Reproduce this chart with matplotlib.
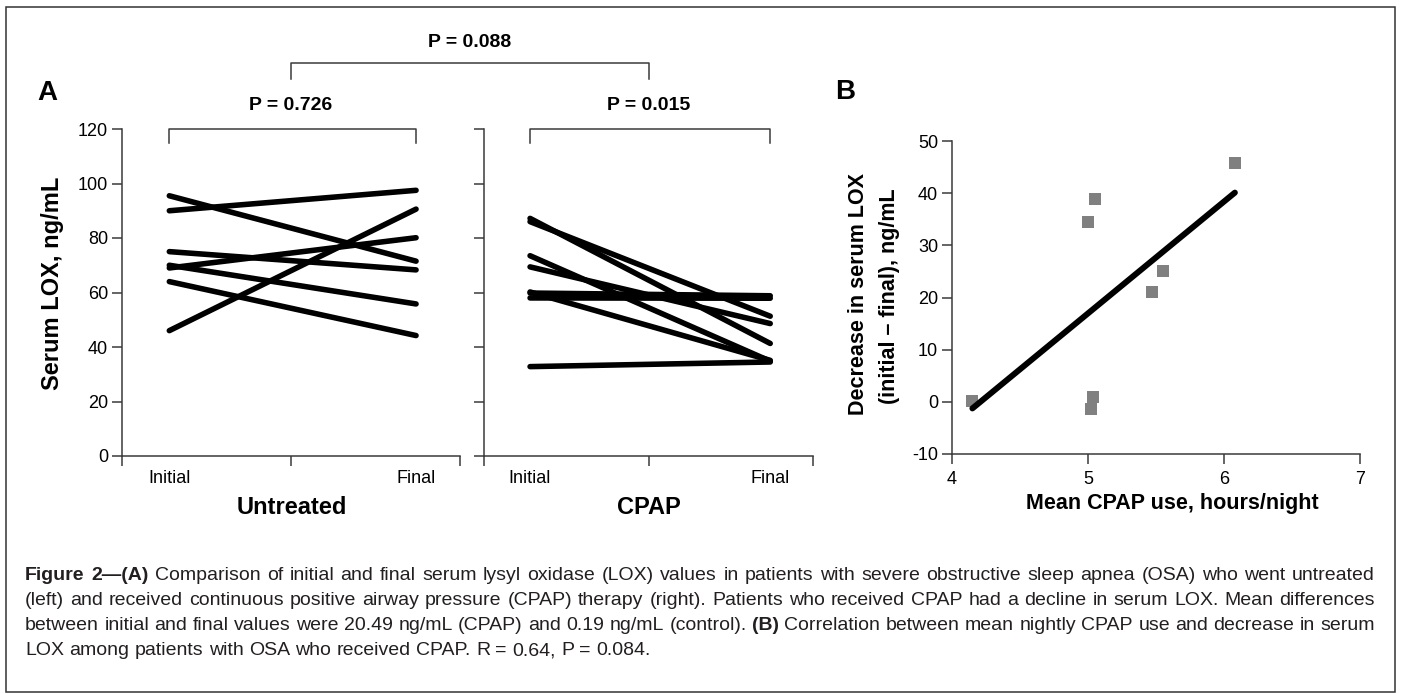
import matplotlib
matplotlib.use("Agg")
import matplotlib.pyplot as plt
from matplotlib.lines import Line2D
from matplotlib.patches import Rectangle
import numpy as np

# Panel A: serum LOX (ng/mL), initial vs final, one pair per patient
timepoints = ["Initial", "Final"]
untreated_initial = [95.5, 90.0, 75.0, 70.0, 69.0, 64.0, 46.0]
untreated_final = [71.5, 97.5, 68.3, 55.8, 80.1, 44.2, 90.6]
cpap_initial = [87.2, 86.0, 73.5, 69.4, 60.2, 59.8, 58.0, 32.8]
cpap_final = [41.3, 51.3, 34.8, 48.6, 35.1, 58.8, 57.9, 34.5]
group_names = ["Untreated", "CPAP"]

# Panel B: mean CPAP use vs decrease in serum LOX
cpap_hours = [4.15, 5.00, 5.05, 5.02, 5.04, 5.47, 5.55, 6.08]
lox_decrease = [0.2, 34.4, 38.8, -1.3, 0.9, 21.0, 25.0, 45.8]

p_untreated = "P = 0.726"
p_cpap = "P = 0.015"
p_between = "P = 0.088"

caption_lines = [
    [("Figure 2\u2014(A)", "bold"),
     ("Comparison of initial and final serum lysyl oxidase (LOX) values in patients with severe obstructive sleep apnea (OSA) who went untreated", "normal")],
    [("(left) and received continuous positive airway pressure (CPAP) therapy (right). Patients who received CPAP had a decline in serum LOX. Mean differences", "normal")],
    [("between initial and final values were 20.49 ng/mL (CPAP) and 0.19 ng/mL (control).", "normal"),
     ("(B)", "bold"),
     ("Correlation between mean nightly CPAP use and decrease in serum", "normal")],
    [("LOX among patients with OSA who received CPAP. R = 0.64, P = 0.084.", "normal")],
]

W, H = 1401, 694
fonts = ["Liberation Sans Narrow", "Liberation Sans", "DejaVu Sans"]
axis_col = "#3a3a3a"
cap_col = "#231f20"
plt.rcParams["axes.unicode_minus"] = False
plt.rcParams["font.family"] = fonts

fig = plt.figure(figsize=(W / 100, H / 100), dpi=100)
renderer = fig.canvas.get_renderer()


def px_axes(x0, y0, x1, y1):
    return fig.add_axes([x0 / W, 1 - y1 / H, (x1 - x0) / W, (y1 - y0) / H])


def fx(x):
    return x / W


def fy(y):
    return 1 - y / H


def style(ax):
    for s in ["top", "right"]:
        ax.spines[s].set_visible(False)
    for s in ["left", "bottom"]:
        ax.spines[s].set_color(axis_col)
        ax.spines[s].set_linewidth(1.1)
    ax.tick_params(which="major", direction="out", length=7, width=1.1,
                   color=axis_col, labelsize=13, pad=3)


axL = px_axes(122, 129, 460, 456)
axR = px_axes(484, 129, 813, 456)
axB = px_axes(952, 141, 1360, 454)

x_cat = [0.28, 1.74]
panels = [(axL, untreated_initial, untreated_final, p_untreated),
          (axR, cpap_initial, cpap_final, p_cpap)]
for ax, ini, fin, ptxt in panels:
    style(ax)
    for a, b in zip(ini, fin):
        ax.plot(x_cat, [a, b], color="black", lw=4, solid_capstyle="round")
    ax.set_xlim(0, 2)
    ax.set_ylim(0, 120)
    ax.set_yticks(np.arange(0, 121, 20))
    ax.set_xticks([0, 1, 2])
    ax.set_xticklabels([])
    ax.set_xticks(x_cat, timepoints, minor=True)
    ax.tick_params(axis="x", which="minor", length=0, labelsize=13, pad=10)
    # bracket over the pair
    ax.plot([x_cat[0], x_cat[0], x_cat[1], x_cat[1]], [115, 120, 120, 115],
            color=axis_col, lw=1.1, clip_on=False)
    ax.text(1.0, 128.8, ptxt, ha="center", va="center", fontsize=14,
            fontweight="bold")
axR.set_yticklabels([])

# bracket between the two groups
to_fig = fig.transFigure.inverted()
pa = to_fig.transform(axL.transData.transform((1, 144.2)))
pb = to_fig.transform(axR.transData.transform((1, 144.2)))
yd = to_fig.transform(axL.transData.transform((1, 138.3)))[1]
fig.add_artist(Line2D([pa[0], pa[0], pb[0], pb[0]], [yd, pa[1], pb[1], yd],
                      transform=fig.transFigure, color=axis_col, lw=1.1))
yt = to_fig.transform(axL.transData.transform((1, 151.9)))[1]
fig.text((pa[0] + pb[0]) / 2, yt, p_between, ha="center", va="center",
         fontsize=14, fontweight="bold")

# panel B
style(axB)
axB.plot(cpap_hours, lox_decrease, "s", color="#808080", ms=9, mew=0)
coef = np.polyfit(cpap_hours, lox_decrease, 1)
xs = np.array([min(cpap_hours), max(cpap_hours)])
axB.plot(xs, np.polyval(coef, xs), color="black", lw=4.3, solid_capstyle="round")
axB.set_xlim(4, 7)
axB.set_ylim(-10, 50)
axB.set_xticks([4, 5, 6, 7])
axB.set_yticks(np.arange(-10, 51, 10))
axB.tick_params(axis="x", pad=5)

# labels
lab = dict(fontsize=17, fontweight="bold", ha="center", va="center")
labB = dict(lab, fontsize=15.5)
fig.text(fx(47), fy(93), "A", fontsize=20, fontweight="bold", ha="center", va="center")
fig.text(fx(845), fy(92), "B", fontsize=20, fontweight="bold", ha="center", va="center")
fig.text(fx(53), fy(283), "Serum LOX, ng/mL", rotation=90, **lab)
fig.text(fx(292), fy(507), group_names[0], **lab)
fig.text(fx(649), fy(507), group_names[1], **lab)
fig.text(fx(1172), fy(503), "Mean CPAP use, hours/night", **labB)
fig.text(fx(858), fy(294), "Decrease in serum LOX", rotation=90, **labB)
fig.text(fx(890), fy(296), "(initial \u2013 final), ng/mL", rotation=90, **labB)


# caption: justified lines with bold pieces
def text_width(s, weight, size):
    t = fig.text(0, 0, s, fontsize=size, fontweight=weight)
    w = t.get_window_extent(renderer).width
    t.remove()
    return w


def words(parts):
    return [(wd, w) for s, w in parts for wd in s.split(" ")]


def natural_width(parts, size):
    sp = text_width("x x", "normal", size) - text_width("xx", "normal", size)
    ws = words(parts)
    return sum(text_width(s, w, size) for s, w in ws) + sp * (len(ws) - 1)


cap_left, cap_right = 25, 1375
span = cap_right - cap_left
cap_size = 15 * span / max(natural_width(p, 15) for p in caption_lines[:3])
space = text_width("x x", "normal", cap_size) - text_width("xx", "normal", cap_size)
for i, parts in enumerate(caption_lines):
    ws = words(parts)
    widths = [text_width(s, w, cap_size) for s, w in ws]
    if i < len(caption_lines) - 1:
        gap = (span - sum(widths)) / (len(ws) - 1)
    else:
        gap = space
    x = cap_left
    y = 580 + 25 * i
    for (s, w), wd in zip(ws, widths):
        fig.text(fx(x), fy(y), s, fontsize=cap_size, fontweight=w,
                 color=cap_col, ha="left", va="baseline")
        x += wd + gap

# outer frame
fig.add_artist(Rectangle((fx(6), fy(692)), (1395 - 6) / W, (692 - 7) / H,
                         transform=fig.transFigure, fill=False,
                         ec="#333333", lw=1.1))

fig.savefig("out.png", dpi=100)
